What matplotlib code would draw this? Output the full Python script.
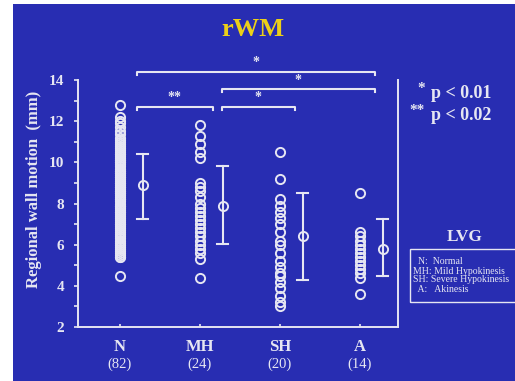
import matplotlib
matplotlib.use("Agg")
import matplotlib.pyplot as plt
from matplotlib.patches import Rectangle

plt.rcParams['font.family'] = ['Liberation Serif', 'DejaVu Serif']

# Groups and sample sizes
groups = ["N", "MH", "SH", "A"]
counts = ["(82)", "(24)", "(20)", "(14)"]

# Individual regional wall motion values (mm)
vals_n = [12.8, 12.2, 12.0, 11.9, 11.7, 11.5, 11.4, 11.2, 11.1, 11.0,
          10.9, 10.8, 10.7, 10.6, 10.5, 10.4, 10.4, 10.3, 10.2, 10.1,
          10.0, 10.0, 9.9, 9.8, 9.7, 9.6, 9.6, 9.5, 9.4, 9.3,
          9.3, 9.2, 9.1, 9.0, 9.0, 8.9, 8.8, 8.8, 8.7, 8.6,
          8.5, 8.5, 8.4, 8.3, 8.2, 8.2, 8.1, 8.0, 7.9, 7.9,
          7.8, 7.7, 7.6, 7.5, 7.4, 7.3, 7.2, 7.1, 7.0, 7.0,
          6.9, 6.8, 6.7, 6.6, 6.5, 6.4, 6.3, 6.2, 6.1, 6.0,
          5.9, 5.8, 5.7, 5.6, 5.5, 5.4, 5.4, 4.5, 9.5, 8.6, 7.6, 10.1]
vals_mh = [11.8, 11.3, 10.9, 10.5, 10.2, 9.0, 8.8, 8.6, 8.3, 8.0,
           7.8, 7.6, 7.4, 7.2, 7.0, 6.8, 6.6, 6.4, 6.2, 6.0,
           5.8, 5.6, 5.3, 4.4]
vals_sh = [10.5, 9.2, 8.2, 7.9, 7.6, 7.3, 7.0, 6.6, 6.2, 6.0,
           5.6, 5.2, 4.9, 4.6, 4.5, 4.2, 3.9, 3.5, 3.2, 3.0]
vals_a = [8.5, 6.6, 6.4, 6.2, 6.0, 5.8, 5.6, 5.4, 5.2, 5.0,
          4.8, 4.6, 4.4, 3.6]

# Group mean and SD range
means = [8.9, 7.9, 6.4, 5.8]
sd_low = [7.25, 6.05, 4.3, 4.5]
sd_high = [10.4, 9.8, 8.5, 7.25]

# Significance brackets: (start group, end group, level, label)
brackets = [(0, 3, 14.4, "*"), (1, 3, 13.55, "*"),
            (0, 1, 12.7, "**"), (1, 2, 12.7, "*")]

BG = "#282db2"
FG = "#e6e6f2"
YEL = "#ecd018"

fig = plt.figure(figsize=(5.15, 3.81), dpi=100)
fig.patch.set_facecolor("white")
fig.patches.append(Rectangle((13 / 515, 0), 1 - 13 / 515, 1 - 4 / 381,
                             transform=fig.transFigure, facecolor=BG,
                             edgecolor="none", zorder=-10))

ax = fig.add_axes([78 / 515, 1 - 327 / 381, 320 / 515, 247 / 381])
ax.set_facecolor("none")
ax.set_xlim(-0.525, 3.475)
ax.set_ylim(2, 14)

for s in ["left", "bottom", "right"]:
    ax.spines[s].set_color(FG)
    ax.spines[s].set_linewidth(1.4)
ax.spines["top"].set_visible(False)

ax.set_yticks(range(2, 15, 2))
ax.set_yticks(range(3, 14, 2), minor=True)
ax.tick_params(axis="y", which="both", direction="out", colors=FG,
               length=3, width=1.2, labelsize=11, pad=7)
for lab in ax.get_yticklabels():
    lab.set_fontweight("bold")

ax.set_xticks(range(4))
ax.set_xticklabels([])
ax.tick_params(axis="x", direction="in", colors=FG, length=2, width=1.2)

for i, (g, c) in enumerate(zip(groups, counts)):
    ax.text(i, 1.05, g, ha="center", va="center", color=FG, fontsize=12,
            fontweight="bold", clip_on=False)
    ax.text(i, 0.2, c, ha="center", va="center", color=FG, fontsize=10.5,
            clip_on=False)

ax.set_ylabel("Regional wall motion  (mm)", color=FG, fontsize=12,
              fontweight="bold")
ax.yaxis.set_label_coords(-36 / 320, (327 - 189) / 247)

# Individual points
for i, v in enumerate([vals_n, vals_mh, vals_sh, vals_a]):
    ax.plot([i] * len(v), v, linestyle="none", marker="o", ms=6.6,
            mfc="none", mec=FG, mew=1.4, clip_on=False)

# Mean ± SD
off = 0.285
for i in range(4):
    x = i + off
    ax.plot([x, x], [sd_low[i], sd_high[i]], color=FG, lw=1.5)
    for yv in (sd_low[i], sd_high[i]):
        ax.plot([x - 0.07, x + 0.07], [yv, yv], color=FG, lw=1.5)
    ax.plot([x], [means[i]], marker="o", ms=6.6, mfc="none", mec=FG, mew=1.4)

# Significance brackets
tip = 0.15
for a, b, lvl, lab in brackets:
    x0, x1 = a + 0.21, b + 0.19
    if a == 1:
        x0 = a + 0.27
    if b == 1:
        x1 = b + 0.16
    ax.plot([x0, x0, x1, x1], [lvl - tip, lvl, lvl, lvl - tip], color=FG,
            lw=1.5, clip_on=False)
    ax.text((x0 + x1) / 2, lvl + 0.12, lab, ha="center", va="bottom",
            color=FG, fontsize=10, fontweight="bold", clip_on=False)

fig.text(253 / 515, 1 - 30 / 381, "rWM", ha="center", va="center",
         color=YEL, fontsize=19, fontweight="bold")

# Significance key
fig.text(425 / 515, 1 - 88 / 381, "*", ha="right", va="center",
         color=FG, fontsize=11, fontweight="bold")
fig.text(431 / 515, 1 - 93 / 381, "p < 0.01", ha="left", va="center",
         color=FG, fontsize=13, fontweight="bold")
fig.text(425 / 515, 1 - 111 / 381, "**", ha="right", va="center",
         color=FG, fontsize=11, fontweight="bold")
fig.text(431 / 515, 1 - 116 / 381, "p < 0.02", ha="left", va="center",
         color=FG, fontsize=13, fontweight="bold")

fig.text(465 / 515, 1 - 237 / 381, "LVG", ha="center", va="center",
         color=FG, fontsize=12.5, fontweight="bold")
fig.patches.append(Rectangle((410 / 515, 1 - 302 / 381), 120 / 515,
                             53 / 381, transform=fig.transFigure,
                             facecolor="none", edgecolor=FG, lw=1.0,
                             zorder=2))
legend_lines = ["  N:  Normal", "MH: Mild Hypokinesis",
                "SH: Severe Hypokinesis", "  A:   Akinesis"]
for k, t in enumerate(legend_lines):
    fig.text(413 / 515, 1 - (262 + 9 * k) / 381, t, ha="left", va="center",
             color=FG, fontsize=7)

fig.savefig("out.png", dpi=100, facecolor=fig.get_facecolor())
